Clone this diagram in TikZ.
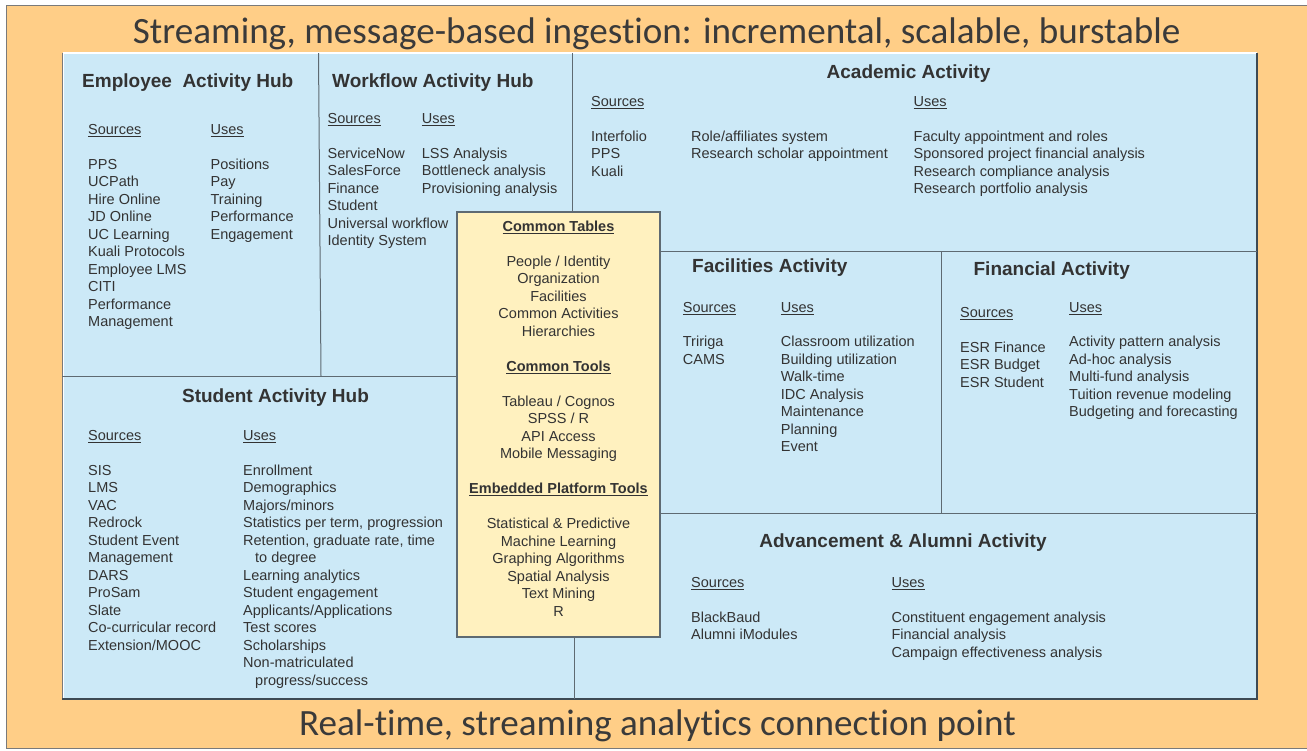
\documentclass[tikz,border=0pt]{standalone}
\usepackage{fontspec}
\setmainfont{Liberation Sans}
\newfontfamily\bannerfont[Ligatures={NoCommon}]{Carlito}
\definecolor{orangebg}{HTML}{FFCE87}
\definecolor{bluebg}{HTML}{CCE9F7}
\definecolor{yellowbg}{HTML}{FFF1BF}
\definecolor{txt}{HTML}{333333}
\definecolor{bannertxt}{HTML}{3A3A3A}
\definecolor{divcol}{HTML}{5E6A72}
\definecolor{edgedark}{HTML}{3D4A54}
\definecolor{outergray}{HTML}{7A7A7A}
\newsavebox\ulbox
\newcommand\undl[1]{\sbox\ulbox{#1}\rlap{\rule[-2.4pt]{\wd\ulbox}{0.9pt}}\usebox\ulbox}
\newcommand\colitems[5]{%
  \foreach \t [count=\i from 0] in {#5}{\node[#1] (#2\i) at (#3,{#4+17.5*\i}) {\t};}}
\begin{document}
\begin{tikzpicture}[x=1pt,y=-1pt,
  body/.style={anchor=base west, inner sep=0pt, text=txt, font=\fontsize{14.5}{17.5}\selectfont},
  ctr/.style={body, anchor=base},
  ctrb/.style={ctr, font=\bfseries\fontsize{14.5}{17.5}\selectfont},
  hdr/.style={anchor=base west, inner sep=0pt, text=txt, font=\bfseries\fontsize{19}{22}\selectfont},
  hdrc/.style={hdr, anchor=base},
  divider/.style={draw=divcol, line width=1pt},
  banner/.style={anchor=base, inner sep=0pt, text=bannertxt, font=\bannerfont\fontsize{37.1}{44}\selectfont}]
\useasboundingbox (0,0) rectangle (1307,750);
% background
\fill[white] (0,0) rectangle (1307,750);
\fill[orangebg] (6,5.5) rectangle (1307,748);
\draw[outergray, line width=1pt] (1307,5.5) -- (6,5.5) -- (6,748) -- (1307,748);
% blue panel
\fill[bluebg] (62,53) rectangle (1257,699);
\draw[white, line width=1.4pt] (62.5,53) -- (1257,53);
\draw[white, line width=1pt] (63.2,53) -- (63.2,699);
\draw[outergray, line width=0.8pt] (62,53) -- (62,699);
\draw[edgedark, line width=2pt] (62,699) -- (1257,699) -- (1257,52.5);
% dividers
\draw[divider] (318.5,53) -- (321,376);
\draw[divider] (62,376) -- (457,376);
\draw[divider] (572,53) -- (572,212);
\draw[divider] (574,637) -- (574,699);
\draw[divider] (660,251) -- (1257,251);
\draw[divider] (941,251) -- (941,513);
\draw[divider] (660,513) -- (1257,513);
% common box
\draw[draw=divcol, line width=1.2pt, fill=yellowbg] (457,212) rectangle (660,637);
% banners
\node[banner] (topbanner) at (656.7,43.4) {Streaming, message-based ingestion: incremental, scalable, burstable};
\node[banner] (botbanner) at (657.5,735.6) {Real-time, streaming analytics connection point};
% Employee
\node[hdr] (emph) at (82,87.5) {Employee\ \ Activity Hub};
\node[body] (empsrc) at (88,134) {\undl{Sources}};
\node[body] (empuse) at (210.4,134) {\undl{Uses}};
\colitems{body}{emps}{88}{169.2}{PPS, UCPath, Hire Online, JD Online, UC Learning, Kuali Protocols, Employee LMS, CITI, Performance, Management}
\colitems{body}{empu}{210.4}{169.2}{Positions, Pay, Training, Performance, Engagement}
% Workflow
\node[hdr] (wfh) at (332,87) {Workflow Activity Hub};
\node[body] (wfsrc) at (327.4,123) {\undl{Sources}};
\node[body] (wfuse) at (421.7,123) {\undl{Uses}};
\colitems{body}{wfs}{327.4}{158.2}{ServiceNow, SalesForce, Finance, Student, Universal workflow, Identity System}
\colitems{body}{wfu}{421.7}{158.2}{LSS Analysis, Bottleneck analysis, Provisioning analysis}
% Academic
\node[hdrc] (acah) at (908.5,78.5) {Academic Activity};
\node[body] (acasrc) at (591,106) {\undl{Sources}};
\node[body] (acause) at (913.5,106) {\undl{Uses}};
\colitems{body}{acas}{591}{141.3}{Interfolio, PPS, Kuali}
\colitems{body}{acam}{691}{141.3}{Role/affiliates system, Research scholar appointment}
\colitems{body}{acau}{913.5}{141.3}{Faculty appointment and roles, Sponsored project financial analysis, Research compliance analysis, Research portfolio analysis}
% Common
\node[ctrb] (cth) at (558.5,231) {\undl{Common Tables}};
\colitems{ctr}{ct}{558.5}{266}{People / Identity, Organization, Facilities, Common Activities, Hierarchies}
\node[ctrb] (ctoolh) at (558.5,371) {\undl{Common Tools}};
\colitems{ctr}{ctool}{558.5}{406}{Tableau / Cognos, SPSS / R, API Access, Mobile Messaging}
\node[ctrb] (emh) at (558.5,493.7) {\undl{Embedded Platform Tools}};
\colitems{ctr}{em}{558.5}{528.7}{Statistical \& Predictive, Machine Learning, Graphing Algorithms, Spatial Analysis, Text Mining, R}
% Facilities
\node[hdr] (fach) at (692,272) {Facilities Activity};
\node[body] (facsrc) at (682.7,312) {\undl{Sources}};
\node[body] (facuse) at (780.7,312) {\undl{Uses}};
\colitems{body}{facs}{682.7}{346.8}{Tririga, CAMS}
\colitems{body}{facu}{780.7}{346.8}{Classroom utilization, Building utilization, Walk-time, IDC Analysis, Maintenance, Planning, Event}
% Financial
\node[hdr] (finh) at (973.4,275) {Financial Activity};
\node[body] (finsrc) at (960,317) {\undl{Sources}};
\node[body] (finuse) at (1069,312) {\undl{Uses}};
\colitems{body}{fins}{960}{352}{ESR Finance, ESR Budget, ESR Student}
\colitems{body}{finu}{1069}{346.8}{Activity pattern analysis, Ad-hoc analysis, Multi-fund analysis, Tuition revenue modeling, Budgeting and forecasting}
% Student
\node[hdrc] (stuh) at (275.5,402.7) {Student Activity Hub};
\node[body] (stusrc) at (88,440) {\undl{Sources}};
\node[body] (stuuse) at (243,440) {\undl{Uses}};
\colitems{body}{stus}{88}{475}{SIS, LMS, VAC, Redrock, Student Event, Management, DARS, ProSam, Slate, Co-curricular record, Extension/MOOC}
\colitems{body}{stuu}{243}{475}{Enrollment, Demographics, Majors/minors, {Statistics per term, progression}, {Retention, graduate rate, time}, \hspace*{12pt}to degree, Learning analytics, Student engagement, Applicants/Applications, Test scores, Scholarships, Non-matriculated, \hspace*{12pt}progress/success}
% Advancement
\node[hdrc] (advh) at (903,547.5) {Advancement \& Alumni Activity};
\node[body] (advsrc) at (691,587) {\undl{Sources}};
\node[body] (advuse) at (891.4,587) {\undl{Uses}};
\colitems{body}{advs}{691}{622}{BlackBaud, Alumni iModules}
\colitems{body}{advu}{891.4}{622}{Constituent engagement analysis, Financial analysis, Campaign effectiveness analysis}
\end{tikzpicture}
\end{document}
